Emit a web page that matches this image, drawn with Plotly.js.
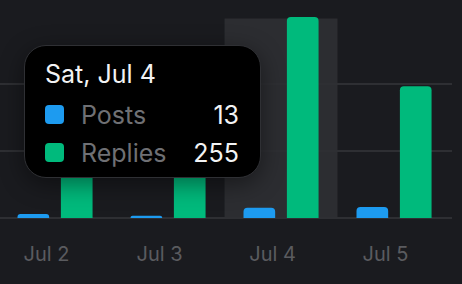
<!DOCTYPE html>
<html>
<head>
<meta charset="utf-8">
<script src="https://cdn.plot.ly/plotly-3.0.1.min.js"></script>
<style>
  html, body { margin:0; padding:0; background:#1a1b1f; overflow:hidden; }
  #chart { width:462px; height:284px; position:absolute; left:0; top:0; }
  .tip { position:absolute; left:24px; top:45px; width:235px; height:131px;
         background:#000; border:1px solid #2f3034; border-radius:22px;
         box-shadow:0 6px 24px rgba(0,0,0,0.45); }
  .t { position:absolute; font-family:Inter, "Noto Sans", sans-serif; font-size:25px;
       line-height:30px; white-space:nowrap; }
  .sq { position:absolute; width:19px; height:19px; border-radius:4px; }
</style>
</head>
<body>
<div id="chart"></div>
<div class="tip"></div>
<div class="t" id="tipTitle" style="left:45px; top:59px; color:#f2f3f4;"></div>
<div class="sq" id="sq0" style="left:45px; top:105px;"></div>
<div class="t" id="lab0" style="left:81px; top:100px; color:#6f7074;"></div>
<div class="t" id="val0" style="right:223px; top:100px; color:#f2f3f4;"></div>
<div class="sq" id="sq1" style="left:45px; top:143px;"></div>
<div class="t" id="lab1" style="left:81px; top:138px; color:#6f7074;"></div>
<div class="t" id="val1" style="right:223px; top:138px; color:#f2f3f4;"></div>
<script>
// ---- data ----
const days = ['Jul 2', 'Jul 3', 'Jul 4', 'Jul 5'];
const weekdays = ['Thu', 'Fri', 'Sat', 'Sun'];
const seriesNames = ['Posts', 'Replies'];
const posts = [5, 3, 13, 14];
const replies = [140, 120, 255, 167];
const hoverIndex = 2;

const colors = ['#1d9bf0', '#00ba7c'];
const maxVal = Math.max(...replies, ...posts);
const nGrid = 3;
const gridVals = [];
for (let i = 0; i <= nGrid; i++) gridVals.push(maxVal * i / nGrid);

const traces = [
  { type:'bar', name:seriesNames[0], x:days, y:posts, marker:{color:colors[0]}, hoverinfo:'none' },
  { type:'bar', name:seriesNames[1], x:days, y:replies, marker:{color:colors[1]}, hoverinfo:'none' }
];

const labelShift = -0.075; // labels sit slightly left of band centres
const layout = {
  width:462, height:284,
  margin:{l:0, r:10, t:17, b:66},
  paper_bgcolor:'#1a1b1f', plot_bgcolor:'#1a1b1f',
  showlegend:false,
  barmode:'group', bargap:0.232, bargroupgap:0.27, barcornerradius:4,
  font:{family:'Inter, "Noto Sans", sans-serif', color:'#5b5c60'},
  xaxis:{ type:'category', range:[-0.487, 3.513], showgrid:false, zeroline:false, showline:false,
          tickmode:'array', tickvals:days.map((d, i) => i + labelShift), ticktext:days,
          ticks:'', tickfont:{size:20, color:'#5a5b5f'}, ticklabelstandoff:22, fixedrange:true },
  yaxis:{ range:[0, maxVal], tickmode:'array', tickvals:gridVals, showticklabels:false,
          showgrid:true, gridcolor:'#2e2f33', gridwidth:2, zeroline:true, zerolinecolor:'#2e2f33', zerolinewidth:2,
          fixedrange:true },
  shapes:[{ type:'rect', layer:'between', xref:'x', yref:'paper',
            x0:hoverIndex - 0.5, x1:hoverIndex + 0.5, y0:0, y1:0.992,
            fillcolor:'#2c2d31', line:{width:0} }]
};

Plotly.newPlot('chart', traces, layout, {displayModeBar:false, staticPlot:true});

document.getElementById('tipTitle').textContent = weekdays[hoverIndex] + ', ' + days[hoverIndex];
const vals = [posts[hoverIndex], replies[hoverIndex]];
for (let i = 0; i < 2; i++) {
  document.getElementById('sq' + i).style.background = colors[i];
  document.getElementById('lab' + i).textContent = seriesNames[i];
  document.getElementById('val' + i).textContent = String(vals[i]);
}
</script>
</body>
</html>
